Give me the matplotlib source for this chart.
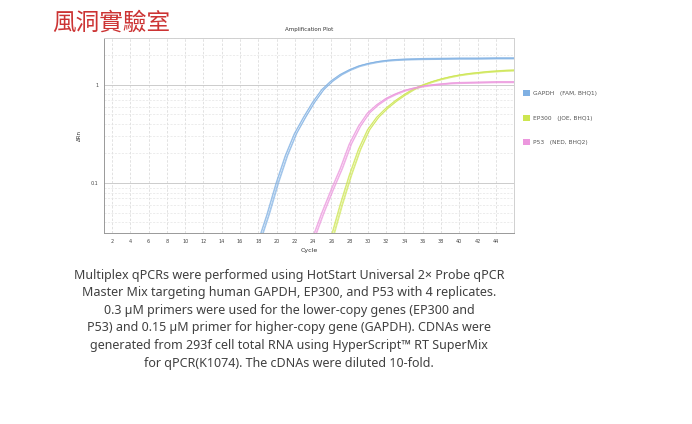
import matplotlib
matplotlib.use('Agg')
import matplotlib.pyplot as plt
from matplotlib.patches import Patch
from matplotlib.ticker import FixedLocator, NullFormatter

# ---- data ----
gapdh_cycles = [18, 19, 20, 21, 22, 23, 24, 25, 26, 27, 28, 29, 30, 31, 32, 33, 34, 36, 38, 40, 42, 44, 46]
gapdh_rn = [0.025, 0.048, 0.10, 0.19, 0.32, 0.47, 0.67, 0.90, 1.10, 1.28, 1.43, 1.56, 1.65, 1.72, 1.77, 1.80, 1.82, 1.84, 1.85, 1.86, 1.86, 1.87, 1.87]

ep300_cycles = [26, 27, 28, 29, 30, 31, 32, 33, 34, 35, 36, 37, 38, 39, 40, 41, 42, 43, 44, 45, 46]
ep300_rn = [0.028, 0.06, 0.12, 0.22, 0.35, 0.47, 0.58, 0.69, 0.80, 0.91, 1.00, 1.08, 1.15, 1.21, 1.26, 1.30, 1.33, 1.36, 1.38, 1.40, 1.41]

p53_cycles = [24, 25, 26, 27, 28, 29, 30, 31, 32, 33, 34, 35, 36, 37, 38, 39, 40, 42, 44, 46]
p53_rn = [0.028, 0.05, 0.085, 0.14, 0.25, 0.38, 0.52, 0.63, 0.73, 0.81, 0.88, 0.93, 0.97, 1.00, 1.02, 1.04, 1.05, 1.06, 1.07, 1.07]

# small shifts between the 4 replicates (cycle shift, plateau factor)
rep_shift = [0.0, 0.12, 0.25, -0.08]
rep_scale = [1.0, 0.98, 1.01, 0.99]

gene_labels = ['GAPDH   (FAM, BHQ1)', 'EP300   (JOE, BHQ1)', 'P53   (NED, BHQ2)']
gene_colors = ['#7fb0e3', '#cde650', '#ec97de']

x_ticks = list(range(2, 46, 2))
caption = [
    'Multiplex qPCRs were performed using HotStart Universal 2\u00d7 Probe qPCR',
    'Master Mix targeting human GAPDH, EP300, and P53 with 4 replicates.',
    '0.3 \u00b5M primers were used for the lower-copy genes (EP300 and',
    'P53) and 0.15 \u00b5M primer for higher-copy gene (GAPDH). CDNAs were',
    'generated from 293f cell total RNA using HyperScript\u2122 RT SuperMix',
    'for qPCR(K1074). The cDNAs were diluted 10-fold.',
]

fig = plt.figure(figsize=(6.92, 4.24), dpi=100)
ax = fig.add_axes([0.150, 0.4505, 0.593, 0.46])

series = [(gapdh_cycles, gapdh_rn), (ep300_cycles, ep300_rn), (p53_cycles, p53_rn)]
for (cyc, rn), col in zip(series, gene_colors):
    for s, k in zip(rep_shift, rep_scale):
        ax.plot([c + s for c in cyc], [v * k for v in rn], color=col, lw=0.7, alpha=0.7)

ax.set_yscale('log')
ax.set_xlim(1.1, 46)
ax.set_ylim(0.031, 3.0)
ax.set_xticks(x_ticks)
ax.set_xticklabels([str(t) for t in x_ticks])
ax.yaxis.set_major_locator(FixedLocator([0.1, 1]))
ax.set_yticklabels(['0.1', '1'])
ax.yaxis.set_minor_locator(FixedLocator([0.04, 0.05, 0.06, 0.07, 0.08, 0.09,
                                         0.2, 0.3, 0.4, 0.5, 0.6, 0.7, 0.8, 0.9, 2, 3]))
ax.yaxis.set_minor_formatter(NullFormatter())
ax.tick_params(axis='both', which='both', labelsize=3.5, labelcolor='#444444',
               length=0, pad=4)
ax.grid(True, axis='x', which='major', color='#dddddd', lw=0.6, ls=(0, (3, 2)))
ax.grid(True, axis='y', which='major', color='#cccccc', lw=0.7)
ax.grid(True, axis='y', which='minor', color='#e4e4e4', lw=0.5, ls=(0, (3, 2)))
ax.set_axisbelow(True)
for sp in ax.spines.values():
    sp.set_color('#d0d0d0')
    sp.set_linewidth(0.7)
ax.spines['left'].set_color('#999999')
ax.spines['bottom'].set_color('#999999')

ax.set_title('Amplification Plot', fontsize=4, color='#333333', pad=5)
ax.set_xlabel('Cycle', fontsize=4.5, color='#333333', labelpad=3)
ax.set_ylabel('\u0394Rn', fontsize=4, color='#333333', labelpad=6)

handles = [Patch(facecolor=c, edgecolor='none') for c in gene_colors]
fig.legend(handles, gene_labels, loc='upper left', bbox_to_anchor=(0.748, 0.80),
           frameon=False, fontsize=4.2, labelcolor='#555555', handlelength=1.2,
           handleheight=1.2, labelspacing=3.2, handletextpad=0.6)

fig.text(0.075, 0.945, '\u98a8\u6d1e\u5be6\u9a57\u5ba4', fontsize=17, color='#cc3333',
         family=['Noto Sans CJK TC', 'DejaVu Sans'], va='center', ha='left')

for i, line in enumerate(caption):
    fig.text(0.418, 1 - (275 + i * 17.6) / 424, line, fontsize=9.0, color='#404040',
             ha='center', va='center', family=['Noto Sans', 'DejaVu Sans'])

fig.savefig('out.png', dpi=100)
